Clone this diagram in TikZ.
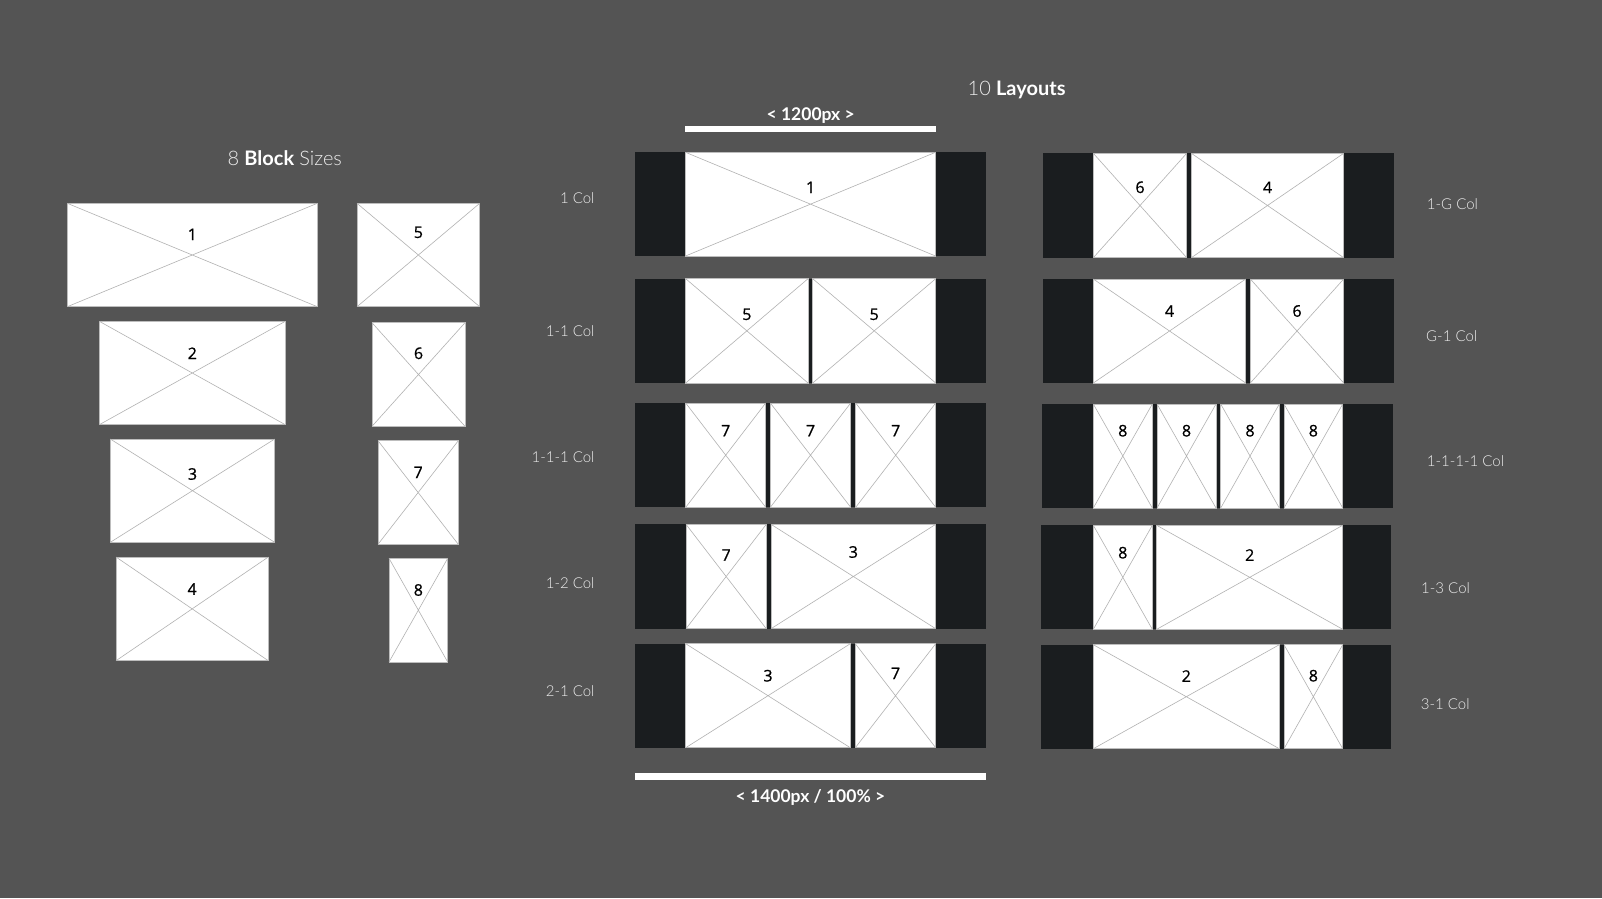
\documentclass[tikz,border=0pt]{standalone}
\usepackage{fontspec}
\setmainfont{Lato}
\newfontfamily\latolight{Lato Light}
\newfontfamily\numfont[FakeBold=0.8]{Open Sans}
\usetikzlibrary{calc}
\definecolor{bg}{HTML}{545454}
\definecolor{panel}{HTML}{1A1D1F}
\definecolor{boxline}{HTML}{BDBDBD}
\definecolor{diag}{HTML}{B2B2B2}
\definecolor{txt}{HTML}{EDEDED}
\tikzset{
  panelbox/.style={fill=panel, draw=none, inner sep=0pt, outer sep=0pt},
  wb/.style={fill=white, draw=boxline, line width=0.9pt, inner sep=0pt, outer sep=0pt},
  diagline/.style={draw=diag, line width=0.6pt},
  num/.style={font=\numfont\fontsize{16}{18}\selectfont, text=black, inner sep=0pt},
  rowlabel/.style={font=\latolight\fontsize{15}{18}\selectfont, text=txt, inner sep=0pt},
  heading/.style={font=\fontsize{20}{24}\selectfont, text=txt, inner sep=0pt},
  barlabel/.style={font=\bfseries\fontsize{17.5}{20}\selectfont, text=white, inner sep=0pt},
  barbox/.style={fill=white, draw=none, inner sep=0pt, outer sep=0pt},
}
% name, x1, y1, x2, y2, label, label offset from top
\newcommand{\wbox}[7]{%
  \node[wb, minimum width={(#4-#2)*1pt}, minimum height={(#5-#3)*1pt}] (#1) at ({(#2+#4)/2},{(#3+#5)/2}) {};
  \draw[diagline] (#1.north west) -- (#1.south east) (#1.north east) -- (#1.south west);
  \node[num] (#1-n) at ($(#1.north)+(0,#7)$) {#6};
}
\newcommand{\pnl}[5]{%
  \node[panelbox, minimum width={(#4-#2)*1pt}, minimum height={(#5-#3)*1pt}] (#1) at ({(#2+#4)/2},{(#3+#5)/2}) {};
}
\newcommand{\wbar}[5]{%
  \node[barbox, minimum width={(#4-#2)*1pt}, minimum height={(#5-#3)*1pt}] (#1) at ({(#2+#4)/2},{(#3+#5)/2}) {};
}
\begin{document}
\begin{tikzpicture}[x=1pt,y=-1pt]
\fill[bg] (0,0) rectangle (1602,898);
\useasboundingbox (0,0) rectangle (1602,898);

% headings
\node[heading, anchor=base west] (h1) at (227.5,165) {{\latolight 8} \textbf{\color{white}Block} {\latolight Sizes}};
\node[heading, anchor=base west] (h2) at (967.5,95) {{\latolight 10} \textbf{\color{white}Layouts}};

% left: block sizes
\wbox{b1}{67.3}{203.3}{317.3}{306.7}{1}{31}
\wbox{b5}{357}{203.3}{479.7}{306.7}{5}{29}
\wbox{b2}{99.3}{321.3}{285.3}{424.7}{2}{32}
\wbox{b6}{372}{322.7}{465}{426.3}{6}{30.6}
\wbox{b3}{110.3}{439}{274.7}{542.3}{3}{35}
\wbox{b7}{378}{440.7}{458.3}{544.3}{7}{31.7}
\wbox{b4}{116}{557}{268.3}{660.7}{4}{32}
\wbox{b8}{389}{558.3}{447.7}{662}{8}{31.7}

% width bars
\wbar{bar1}{685.3}{125.7}{935.5}{132.3}
\node[barlabel, anchor=base] (bar1-t) at (810.7,120) {< 1200px >};
\wbar{bar2}{635.3}{773.3}{986}{780.3}
\node[barlabel, anchor=base] (bar2-t) at (810.5,802.5) {< 1400px / 100\% >};

% middle layouts
\pnl{m1}{635.3}{152.3}{985.7}{256}
\wbox{m1a}{685.5}{152.3}{935.5}{256}{1}{35}
\pnl{m2}{635.3}{278.7}{985.7}{383}
\wbox{m2a}{685.7}{278.7}{808}{383}{5}{35.6}
\wbox{m2b}{812.7}{278.7}{935.7}{383}{5}{35.6}
\pnl{m3}{635.3}{403}{985.7}{507.3}
\wbox{m3a}{685.7}{403}{765.7}{507.3}{7}{27.7}
\wbox{m3b}{770.3}{403}{850.7}{507.3}{7}{27.7}
\wbox{m3c}{855.7}{403}{935.7}{507.3}{7}{27.7}
\pnl{m4}{635.3}{524.3}{985.7}{628.7}
\wbox{m4a}{686}{524.3}{766.3}{628.7}{7}{30.7}
\wbox{m4b}{771}{524.3}{935.7}{628.7}{3}{27.7}
\pnl{m5}{635.3}{643.7}{986}{747.7}
\wbox{m5a}{685.7}{643.7}{850.3}{747.7}{3}{32}
\wbox{m5b}{855.3}{643.7}{935.7}{747.7}{7}{29.7}

% right layouts
\pnl{r1}{1043}{153.3}{1393.7}{257.7}
\wbox{r1a}{1093.3}{153.3}{1186.7}{257.7}{6}{34}
\wbox{r1b}{1191.3}{153.3}{1343.7}{257.7}{4}{34}
\pnl{r2}{1043}{279}{1393.7}{383}
\wbox{r2a}{1093.3}{279}{1245.7}{383}{4}{32}
\wbox{r2b}{1250.3}{279}{1343.7}{383}{6}{32}
\pnl{r3}{1042.3}{404}{1393}{508}
\wbox{r3a}{1093.3}{404}{1152.3}{508}{8}{26.7}
\wbox{r3b}{1157}{404}{1216}{508}{8}{26.7}
\wbox{r3c}{1220.7}{404}{1279.3}{508}{8}{26.7}
\wbox{r3d}{1284}{404}{1342.7}{508}{8}{26.7}
\pnl{r4}{1040.7}{525.3}{1391}{629.3}
\wbox{r4a}{1093.3}{525.3}{1152.3}{629.3}{8}{27.4}
\wbox{r4b}{1156.7}{525.3}{1342.7}{629.3}{2}{29.7}
\pnl{r5}{1040.7}{644.7}{1391.3}{748.7}
\wbox{r5a}{1093.3}{644.7}{1279.3}{748.7}{2}{31.3}
\wbox{r5b}{1284}{644.7}{1342.7}{748.7}{8}{31}

% row labels
\node[rowlabel, anchor=east] (lm1) at (594.7,198) {1 Col};
\node[rowlabel, anchor=east] (lm2) at (594.7,331) {1-1 Col};
\node[rowlabel, anchor=east] (lm3) at (594.7,456.7) {1-1-1 Col};
\node[rowlabel, anchor=east] (lm4) at (594.7,583.3) {1-2 Col};
\node[rowlabel, anchor=east] (lm5) at (594.7,690.7) {2-1 Col};
\node[rowlabel, anchor=west] (lr1) at (1426.7,204) {1-G Col};
\node[rowlabel, anchor=west] (lr2) at (1426,335.7) {G-1 Col};
\node[rowlabel, anchor=west] (lr3) at (1426.7,461) {1-1-1-1 Col};
\node[rowlabel, anchor=west] (lr4) at (1421,587.7) {1-3 Col};
\node[rowlabel, anchor=west] (lr5) at (1420.7,704) {3-1 Col};
\end{tikzpicture}
\end{document}
